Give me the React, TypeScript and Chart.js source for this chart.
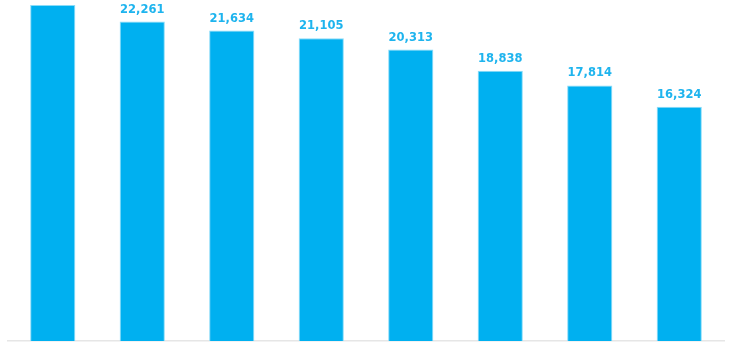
import React, { useEffect, useRef } from "react";
import { Chart, registerables } from "chart.js";

Chart.register(...registerables);

const categories = ["1", "2", "3", "4", "5", "6", "7", "8"];
const values = [23415, 22261, 21634, 21105, 20313, 18838, 17814, 16324];

const barColor = "#00B0F0";
const labelColor = "#1EB4EE";

const valueLabels = {
  id: "valueLabels",
  afterDraw(chart: any) {
    const ctx = chart.ctx;
    const meta = chart.getDatasetMeta(0);
    ctx.save();
    ctx.font = "bold 11.5px 'DejaVu Sans', Verdana, sans-serif";
    ctx.fillStyle = labelColor;
    ctx.textAlign = "center";
    ctx.textBaseline = "alphabetic";
    meta.data.forEach((bar: any, i: number) => {
      ctx.fillText(values[i].toLocaleString("en-US"), bar.x, bar.y - 9);
    });
    ctx.restore();
  },
};

export default function App() {
  const ref = useRef<HTMLCanvasElement>(null);
  useEffect(() => {
    document.body.style.margin = "0";
    if (!ref.current) return;
    const chart = new Chart(ref.current, {
      type: "bar",
      data: {
        labels: categories,
        datasets: [
          {
            data: values,
            backgroundColor: barColor,
            borderColor: "#8ADCF8",
            borderWidth: 1,
            categoryPercentage: 1,
            barPercentage: 0.505,
          },
        ],
      },
      options: {
        animation: false,
        responsive: false,
        maintainAspectRatio: false,
        layout: { padding: { left: 8, right: 9, top: 0, bottom: 12 } },
        plugins: { legend: { display: false }, tooltip: { enabled: false } },
        scales: {
          x: {
            ticks: { display: false },
            grid: { display: false, drawTicks: false },
            border: { display: true, color: "#E6E6E6", width: 1.5 },
          },
          y: {
            display: false,
            min: 0,
            max: 23765,
          },
        },
      },
      plugins: [valueLabels],
    });
    return () => chart.destroy();
  }, []);
  return (
    <div style={{ width: 733, height: 353, background: "#fff" }}>
      <canvas ref={ref} width={733} height={353} style={{ display: "block" }} />
    </div>
  );
}
